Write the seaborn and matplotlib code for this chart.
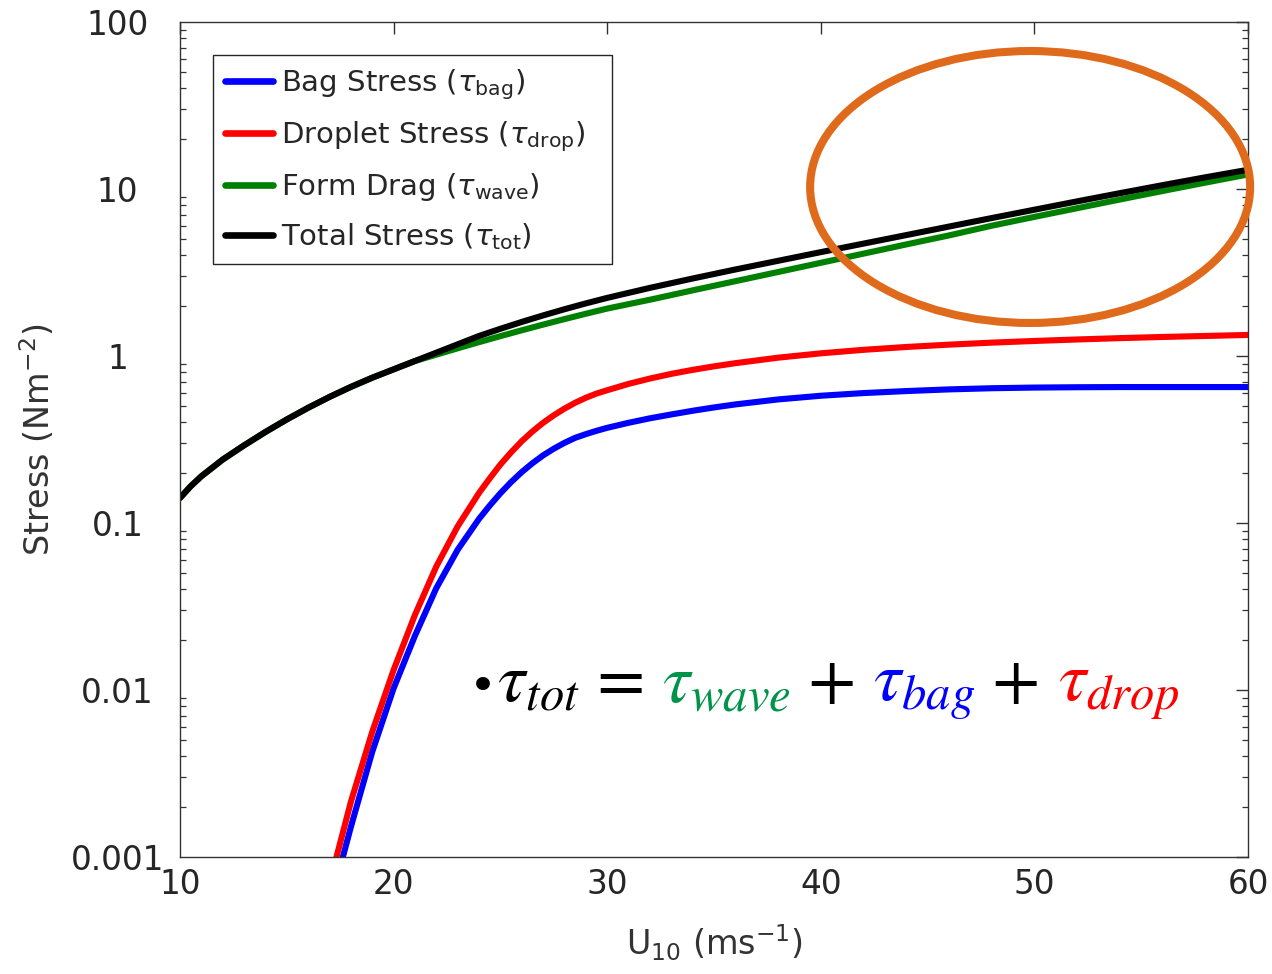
import numpy as np
import pandas as pd
import seaborn as sns
import matplotlib
matplotlib.use("Agg")
import matplotlib.pyplot as plt
from matplotlib.patches import Ellipse
from matplotlib.offsetbox import TextArea, HPacker, AnchoredOffsetbox
from matplotlib.ticker import LogLocator, FixedLocator, FixedFormatter, NullFormatter

# Wind speed (m/s) and stress components (N m^-2)
u_full = [10, 10.5, 11, 12, 13, 14, 15, 16, 17, 18, 19, 20, 21, 22, 23, 24,
          25, 26, 27, 28, 29, 30, 32, 34, 36, 38, 40, 42, 44, 46, 48, 50,
          52, 54, 56, 58, 60]
tau_tot = [0.1413, 0.1660, 0.1905, 0.2399, 0.2917, 0.3508, 0.4169, 0.4898,
           0.5689, 0.6531, 0.7413, 0.8318, 0.9333, 1.0471, 1.1749, 1.3183,
           1.4555, 1.5996, 1.7498, 1.9055, 2.0654, 2.2284, 2.5586, 2.9107,
           3.2961, 3.7154, 4.1879, 4.7098, 5.2966, 5.9566, 6.6988, 7.5162,
           8.4333, 9.4406, 10.544, 11.749, 13.032]
tau_wave = [0.1413, 0.1660, 0.1905, 0.2399, 0.2917, 0.3508, 0.4169, 0.4898,
            0.5689, 0.6531, 0.7413, 0.8318, 0.9333, 1.0186, 1.1117, 1.2106,
            1.3152, 1.4256, 1.5417, 1.6634, 1.7906, 1.9231, 2.1727, 2.4717,
            2.8054, 3.1842, 3.6141, 4.1020, 4.6559, 5.2723, 6.0256, 6.8077,
            7.6736, 8.6497, 9.7275, 10.914, 12.218]

u_spray = [17, 18, 19, 20, 21, 22, 23, 24, 24.5, 25, 25.5, 26, 26.5, 27,
           27.5, 28, 28.5, 29, 29.5, 30, 31, 32, 33, 34, 35, 36, 38, 40, 42,
           44, 46, 48, 50, 52, 54, 56, 58, 60]
tau_drop = [0.000692, 0.00214, 0.00562, 0.01318, 0.02818, 0.05495, 0.0955,
            0.1514, 0.1849, 0.2239, 0.2649, 0.3090, 0.3532, 0.3981, 0.4416,
            0.4842, 0.5248, 0.5623, 0.5957, 0.6237, 0.6808, 0.7328, 0.7816,
            0.8260, 0.8670, 0.9057, 0.9772, 1.0375, 1.0889, 1.1324, 1.1695,
            1.2023, 1.2303, 1.2560, 1.2794, 1.3002, 1.3183, 1.3366]
tau_bag = [0.000501, 0.001514, 0.004266, 0.01023, 0.02113, 0.04074, 0.06918,
           0.1059, 0.1271, 0.1507, 0.1758, 0.2018, 0.2280, 0.2541, 0.2786,
           0.3020, 0.3236, 0.3404, 0.3565, 0.3715, 0.3981, 0.4236, 0.4467,
           0.4699, 0.4920, 0.5129, 0.5495, 0.5781, 0.5998, 0.6166, 0.6310,
           0.6412, 0.6471, 0.6501, 0.6516, 0.6516, 0.6516, 0.6516]

labels = [r"Bag Stress ($\tau_{\mathrm{bag}}$)",
          r"Droplet Stress ($\tau_{\mathrm{drop}}$)",
          r"Form Drag ($\tau_{\mathrm{wave}}$)",
          r"Total Stress ($\tau_{\mathrm{tot}}$)"]
colors = ["#0000FF", "#FF0000", "#008000", "#000000"]

y_ticks = [0.001, 0.01, 0.1, 1, 10, 100]
y_ticklabels = ["0.001", "0.01", "0.1", "1", "10", "100"]
x_ticks = [10, 20, 30, 40, 50, 60]

frames = []
for lab, u, v in [(labels[0], u_spray, tau_bag),
                  (labels[1], u_spray, tau_drop),
                  (labels[2], u_full, tau_wave),
                  (labels[3], u_full, tau_tot)]:
    frames.append(pd.DataFrame({"U10": u, "stress": v, "component": lab}))
df = pd.concat(frames, ignore_index=True)

sns.set_theme(style="white")
plt.rcParams["font.family"] = ["DejaVu Sans"]
plt.rcParams["text.color"] = "#262626"

fig = plt.figure(figsize=(12.72, 9.74), dpi=100)
ax = fig.add_axes([180 / 1272, 1 - 857 / 974, (1248 - 180) / 1272, (857 - 22) / 974])

sns.lineplot(data=df, x="U10", y="stress", hue="component", hue_order=labels,
             palette=colors, linewidth=4.4, errorbar=None, sort=True,
             ax=ax, legend=True)

ax.set_yscale("log")
ax.set_xlim(10, 60)
ax.set_ylim(0.001, 100)

ax.yaxis.set_major_locator(FixedLocator(y_ticks))
ax.yaxis.set_major_formatter(FixedFormatter(y_ticklabels))
ax.yaxis.set_minor_locator(LogLocator(base=10, subs=np.arange(2, 10)))
ax.yaxis.set_minor_formatter(NullFormatter())
ax.set_xticks(x_ticks)
ax.set_xticklabels([str(t) for t in x_ticks])

ax.tick_params(axis="both", which="major", direction="in", length=8.5, width=1,
               top=True, right=True, labelsize=23.5, colors="#333333",
               labelcolor="#262626")
ax.tick_params(axis="y", which="minor", direction="in", length=4, width=0.9,
               left=True, right=True, colors="#333333")
ax.tick_params(axis="x", which="major", pad=8)
ax.tick_params(axis="y", which="major", pad=45)
for lbl in ax.get_yticklabels():
    lbl.set_horizontalalignment("center")
for s in ax.spines.values():
    s.set_linewidth(1.0)
    s.set_color("#333333")

ax.set_xlabel(r"U$_{10}$ (ms$^{-1}$)", fontsize=24, color="#333333")
ax.set_ylabel(r"Stress (Nm$^{-2}$)", fontsize=24, color="#333333")
ax.xaxis.set_label_coords(0.5, -0.079)
ax.yaxis.set_label_coords(-0.115, 0.5)

# Legend box stretched to a fixed width, anchored at the upper left
leg_w = (612 - 213) / 1068
leg_h = (265 - 55) / 835
leg_top = (857 - 55) / 835
leg = ax.legend(loc="upper left", mode="expand",
                bbox_to_anchor=(0.031, leg_top - leg_h, leg_w, leg_h),
                borderaxespad=0, fontsize=21, frameon=True, fancybox=False,
                edgecolor="#262626", framealpha=1, handlelength=1.65,
                handletextpad=0.25, labelspacing=0.6, borderpad=0.42)
leg.get_frame().set_linewidth(1.0)
for line in leg.get_lines():
    line.set_linewidth(4.8)

# Stress budget written out beneath the curves
math_size = 50
eq_parts = [("\u2022", "#000000", "bullet"),
            (r"$\tau_{tot}$", "#000000", "math"),
            (" = ", "#000000", "op"),
            (r"$\tau_{wave}$", "#00934A", "math"),
            (" + ", "#000000", "op"),
            (r"$\tau_{bag}$", "#0000FF", "math"),
            (" + ", "#000000", "op"),
            (r"$\tau_{drop}$", "#FF0000", "math")]
areas = []
for txt, col, kind in eq_parts:
    if kind == "math":
        props = dict(color=col, fontsize=math_size, math_fontfamily="stix")
    elif kind == "op":
        props = dict(color=col, fontsize=math_size, family="STIXGeneral")
    else:
        props = dict(color=col, fontsize=34, family="DejaVu Sans")
    areas.append(TextArea(txt, textprops=props))
packer = HPacker(children=areas, align="baseline", pad=0, sep=0)
eq_box = AnchoredOffsetbox(loc="center left", child=packer, pad=0, borderpad=0,
                           frameon=False, bbox_to_anchor=(0.2705, 0.206),
                           bbox_transform=ax.transAxes)
ax.add_artist(eq_box)

# Highlight of the high-wind region
ell = Ellipse(xy=(0.796, 0.8024), width=0.412, height=0.3257,
              transform=ax.transAxes, fill=False, edgecolor="#E06A1B",
              linewidth=5.8, clip_on=False, zorder=10)
ax.add_patch(ell)

fig.savefig("out.png", dpi=100)
